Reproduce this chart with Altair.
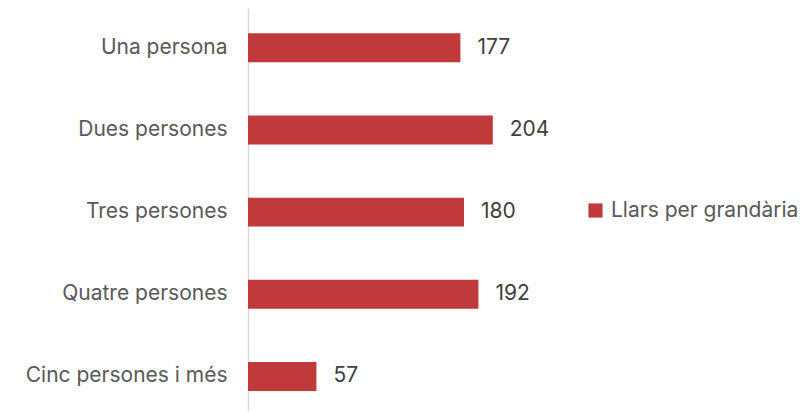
import altair as alt
import pandas as pd

categories = ["Una persona", "Dues persones", "Tres persones", "Quatre persones", "Cinc persones i més"]
values = [177, 204, 180, 192, 57]
series_name = "Llars per grandària"

df = pd.DataFrame({"cat": categories, "val": values, "serie": [series_name] * len(values)})

FONT = "Inter"
FS = 21

y = alt.Y("cat:N", sort=categories, title=None,
          scale=alt.Scale(paddingInner=0.648, paddingOuter=0.27, align=0.57),
          axis=alt.Axis(ticks=False, labelPadding=21, labelFontSize=FS, labelColor="#595959",
                        labelFont=FONT, domainColor="#d9d9d9", domainWidth=1.5, labelLimit=300))
x = alt.X("val:Q", title=None, scale=alt.Scale(domain=[0, 250]), axis=None)

bars = alt.Chart(df).mark_bar(color="#c0393b").encode(
    x=x, y=y,
    color=alt.Color("serie:N", scale=alt.Scale(range=["#c0393b"]),
                    legend=alt.Legend(title=None, orient="none", legendX=337, legendY=192,
                                      symbolType="square", symbolSize=200, symbolStrokeWidth=0,
                                      labelFontSize=FS, labelColor="#595959", labelFont=FONT,
                                      labelOffset=5, labelLimit=400))
)
labels = alt.Chart(df).mark_text(align="left", baseline="middle", dx=17, fontSize=FS,
                                 color="#404040", font=FONT).encode(
    x=x, y=alt.Y("cat:N", sort=categories), text="val:Q"
)

chart = (bars + labels).properties(
    width=300, height=402,
    autosize=alt.AutoSizeParams(type="none"),
    padding={"left": 240, "top": 0, "right": 250, "bottom": 2},
).configure_view(stroke=None)

chart.save("out.html", embed_options={"renderer": "svg", "actions": False})
